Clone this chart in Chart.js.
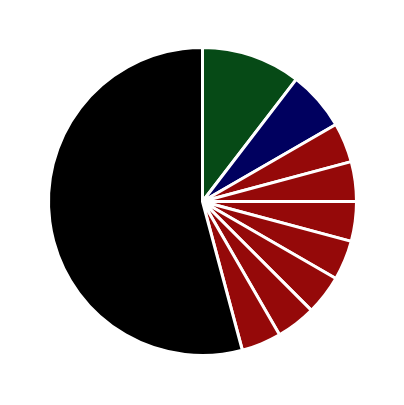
<!DOCTYPE html>
<html><head><meta charset="utf-8">
<script src="https://cdn.jsdelivr.net/npm/chart.js@4/dist/chart.umd.min.js"></script>
<style>html,body{margin:0;padding:0;background:#fff;}#wrap{width:404px;height:405px;}</style>
</head><body><div id="wrap"><canvas id="c" width="404" height="405"></canvas></div>
<script>
const categories = ["A","B","C1","C2","C3","C4","C5","C6","C7","D"];
const values = [5,3,2,2,2,2,2,2,2,26];
const colors = ["#064a16","#00005f","#950909","#950909","#950909","#950909","#950909","#950909","#950909","#000000"];
new Chart(document.getElementById('c'), {
  type: 'pie',
  data: { labels: categories, datasets: [{ data: values, backgroundColor: colors, borderColor: '#ffffff', borderWidth: 3 }] },
  options: {
    responsive: false, animation: false,
    layout: { padding: { top: 46, bottom: 48, left: 47, right: 46 } },
    plugins: { legend: { display: false }, tooltip: { enabled: false } }
  }
});
</script></body></html>
